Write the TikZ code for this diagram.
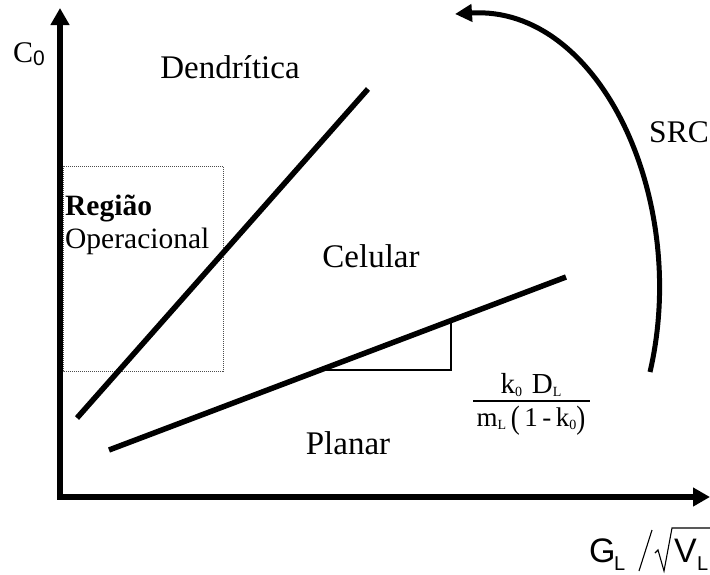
\documentclass[tikz,border=0pt]{standalone}
\usepackage{fontspec}
\setmainfont{Liberation Serif}
\setsansfont{Liberation Sans}
\usetikzlibrary{arrows.meta}
\newcommand\fs[1]{\fontsize{#1}{#1}\selectfont}
\newcommand\lsub[2][-3.5pt]{\raisebox{#1}{\fs{14}#2}}
\tikzset{
  lbl/.style={inner sep=0pt, anchor=base, font=\fs{33}},
  thickline/.style={line width=5.5pt, line cap=butt},
  axis/.style={line width=6pt, -{Triangle[length=17pt,width=18pt]}},
}
\begin{document}
\begin{tikzpicture}[x=1pt,y=-1pt]
\useasboundingbox (0,0) rectangle (710,574);
% axes
\coordinate (O1) at (60,499);
\coordinate (Ytop) at (60,8);
\coordinate (O2) at (57,497);
\coordinate (Xend) at (710,497);
\draw[axis] (O1) -- (Ytop);
\draw[axis] (O2) -- (Xend);
% dotted box
\coordinate (b1) at (63,166);
\coordinate (b2) at (223,371);
\draw[densely dotted, line width=1pt, black!70] (b1) rectangle (b2);
% boundary lines
\coordinate (l1a) at (77,418);
\coordinate (l1b) at (368,89);
\coordinate (l2a) at (109,450);
\coordinate (l2b) at (566,277);
\draw[thickline] (l1a) -- (l1b);
% slope triangle
\coordinate (t1) at (320,370);
\coordinate (t2) at (451,370);
\coordinate (t3) at (451,321);
\draw[line width=1.2pt] (t1) -- (t2) -- (t3);
\draw[thickline] (l2a) -- (l2b);
% SRC arc
\coordinate (s1) at (650,372);
\coordinate (s2) at (455,14);
\draw[line width=5pt, -{Triangle[length=17pt,width=17pt]}] (s1) .. controls (690,200) and (600,5) .. (s2);
% labels
\node[lbl, anchor=base west, font=\fs{30}] (c0) at (13,62) {C\raisebox{-3pt}{\sffamily\fs{21}0}};
\node[lbl] (dend) at (230,78) {Dendrítica};
\node[lbl, anchor=base west, font=\fs{29.5}] (reg) at (65,215) {\bfseries Região};
\node[lbl, anchor=base west, font=\fs{29.5}] (op) at (65,248) {Operacional};
\node[lbl] (cel) at (371,267) {Celular};
\node[lbl] (plan) at (348,454) {Planar};
\node[lbl, font=\fs{31.5}] (src) at (679,142) {SRC};
% fraction
\node[lbl, font=\fs{29}] (num) at (531,393) {k\lsub{0}\,\,D\lsub{L}};
\coordinate (f1) at (473,401);
\coordinate (f2) at (590,401);
\draw[line width=1.5pt] (f1) -- (f2);
\node[lbl, font=\fs{27}] (den) at (531,426) {m\lsub{L}\,\raisebox{-2pt}{\scalebox{1}[1.2]{(}}\,1\,-\,k\lsub{0}\raisebox{-2pt}{\scalebox{1}[1.2]{)}}};
% x-axis label
\node[lbl, anchor=base west, font=\sffamily\fs{34}] (g) at (589,562) {G};
\node[lbl, anchor=base west, font=\sffamily\fs{20}] (gl) at (614,570) {L};
\coordinate (sl1) at (639,571);
\coordinate (sl2) at (652,530);
\draw[line width=1.1pt] (sl1) -- (sl2);
\coordinate (r0) at (655,553);
\coordinate (r1) at (658,550);
\coordinate (r2) at (664,571);
\coordinate (r3) at (672,528);
\coordinate (r4) at (710,528);
\draw[line width=1.1pt, line join=miter] (r0) -- (r1) -- (r2) -- (r3) -- (r4);
\node[lbl, anchor=base west, font=\sffamily\fs{34}] (v) at (674,562) {V};
\node[lbl, anchor=base west, font=\sffamily\fs{20}] (vl) at (697,570) {L};
\end{tikzpicture}
\end{document}
